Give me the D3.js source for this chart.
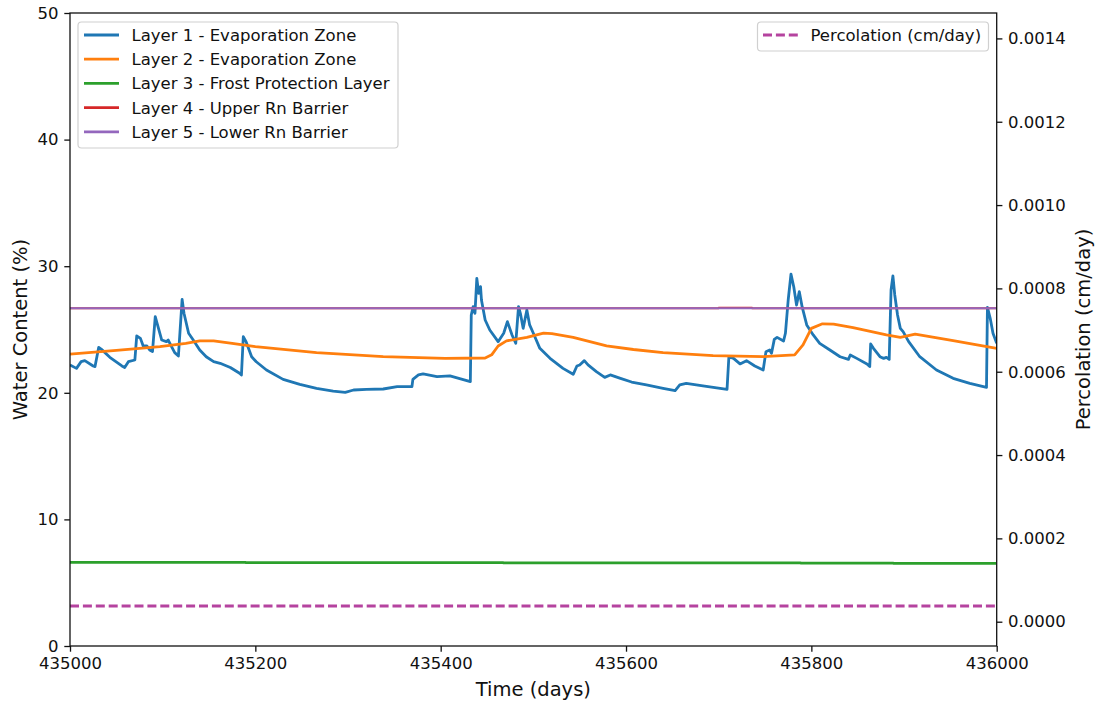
<!DOCTYPE html>
<html>
<head>
<meta charset="utf-8">
<script src="https://cdn.jsdelivr.net/npm/d3@7/dist/d3.min.js"></script>
<style>
  html, body { margin: 0; padding: 0; background: #ffffff; }
  svg { display: block; }
  text { font-family: "DejaVu Sans", sans-serif; fill: #111; }
</style>
</head>
<body>
<svg id="chart" width="1097" height="705"></svg>
<script>
// ---- Data -------------------------------------------------------------
const layer1Days = [435000,435007,435012,435016,435025,435027,435031,435034,435043,435056,435059,435063,435070,435072,435076,435079,435083,435086,435089,435092,435094,435099,435104,435106,435110,435113,435117,435121,435123,435128,435133,435140,435147,435155,435162,435173,435183,435185,435187,435190,435196,435201,435212,435230,435248,435266,435284,435297,435306,435320,435338,435353,435369,435370,435376,435381,435396,435410,435432,435433,435435,435437,435439,435441,435443,435444,435448,435453,435462,435468,435472,435477,435481,435484,435486,435489,435493,435496,435500,435507,435518,435532,435543,435547,435550,435555,435559,435568,435577,435583,435594,435606,435622,435640,435653,435658,435665,435683,435709,435711,435716,435723,435730,435739,435748,435751,435755,435757,435760,435763,435770,435772,435775,435778,435781,435784,435787,435790,435795,435802,435809,435820,435831,435840,435842,435849,435860,435863,435864,435867,435874,435878,435881,435884,435886,435888,435890,435893,435896,435899,435905,435917,435935,435953,435971,435989,435990,435993,435996,436000];
const layer1Water = [22.2,21.93,22.46,22.54,22.12,22.07,23.59,23.43,22.8,22.12,22.0,22.46,22.59,24.49,24.3,23.7,23.7,23.38,23.25,26.01,25.49,24.17,24.04,24.17,23.59,23.17,22.91,27.38,26.28,24.7,24.17,23.38,22.85,22.46,22.33,22.0,21.54,21.41,24.43,24.04,22.85,22.45,21.8,21.06,20.67,20.35,20.14,20.04,20.22,20.27,20.3,20.49,20.49,21.06,21.41,21.49,21.28,21.33,20.88,26.15,26.8,26.28,29.04,27.86,28.38,27.33,25.75,24.96,24.04,24.7,25.62,24.57,23.91,26.8,26.28,25.09,26.54,25.36,24.7,23.51,22.72,21.93,21.46,22.12,22.2,22.54,22.2,21.67,21.22,21.41,21.14,20.85,20.62,20.35,20.17,20.62,20.75,20.54,20.27,22.85,22.72,22.28,22.54,22.12,21.8,23.25,23.38,23.12,24.22,24.38,24.09,24.7,27.33,29.38,28.38,26.93,27.99,26.8,25.36,24.57,23.91,23.38,22.85,22.64,22.99,22.72,22.28,22.07,23.86,23.51,22.85,22.72,22.8,22.64,28.12,29.23,27.73,26.15,25.09,24.83,24.04,22.85,21.8,21.14,20.75,20.43,26.75,25.88,24.7,23.91];

const layer2Days = [435000,435050,435097,435125,435140,435155,435175,435200,435266,435338,435405,435448,435455,435462,435471,435493,435511,435520,435543,435579,435608,435640,435694,435748,435782,435791,435800,435812,435824,435845,435881,435896,435912,435953,436000];
const layer2Water = [23.06,23.35,23.64,23.9,24.1,24.1,23.9,23.65,23.17,22.85,22.72,22.75,23.0,23.7,24.1,24.38,24.72,24.68,24.38,23.7,23.42,23.17,22.93,22.85,22.99,23.78,25.09,25.45,25.43,25.14,24.57,24.38,24.64,24.12,23.51];

const layer3Days = [435000,435189,435190,435467,435468,435788,435789,435888,435889,436000];
const layer3Water = [6.61,6.61,6.59,6.59,6.57,6.57,6.55,6.55,6.53,6.53];

const layer4Days = [435000,435700,435700,435736,435736,436000];
const layer4Water = [26.67,26.67,26.71,26.71,26.67,26.67];

const layer5Days = [435000,436000];
const layer5Water = [26.67,26.67];

const percolationDays = [435000,436000];
const percolationRate = [0.0000377,0.0000377];

const seriesNames = [
  "Layer 1 - Evaporation Zone",
  "Layer 2 - Evaporation Zone",
  "Layer 3 - Frost Protection Layer",
  "Layer 4 - Upper Rn Barrier",
  "Layer 5 - Lower Rn Barrier"
];
const seriesColors = ["#1f77b4", "#ff7f0e", "#2ca02c", "#d62728", "#9467bd"];
const percolationName = "Percolation (cm/day)";
const percolationColor = "#b5439f";

const xTicks = [435000, 435200, 435400, 435600, 435800, 436000];
const leftTicks = [0, 10, 20, 30, 40, 50];
const rightTicks = [0.0000, 0.0002, 0.0004, 0.0006, 0.0008, 0.0010, 0.0012, 0.0014];

// ---- Layout -----------------------------------------------------------
const plot = { left: 70, right: 996.7, top: 13, bottom: 646 };
const tickFont = 16.5;
const labelFont = 19.5;
const tickLen = 5.7;

const svg = d3.select("#chart");

const x = d3.scaleLinear().domain([435000, 436000]).range([plot.left, plot.right]);
const yLeft = d3.scaleLinear().domain([0, 50]).range([plot.bottom, plot.top]);
const yRight = d3.scaleLinear().domain([-0.0000583, 0.001461]).range([plot.bottom, plot.top]);

svg.append("defs").append("clipPath").attr("id", "plotClip")
  .append("rect")
  .attr("x", plot.left).attr("y", plot.top)
  .attr("width", plot.right - plot.left).attr("height", plot.bottom - plot.top);

const lines = svg.append("g").attr("clip-path", "url(#plotClip)");

const layers = [
  { days: layer1Days, values: layer1Water, width: 2.8 },
  { days: layer2Days, values: layer2Water, width: 2.8 },
  { days: layer3Days, values: layer3Water, width: 2.8 },
  { days: layer4Days, values: layer4Water, width: 2.0 },
  { days: layer5Days, values: layer5Water, width: 2.0 }
];

const waterLine = d3.line().x(d => x(d[0])).y(d => yLeft(d[1]));
layers.forEach((layer, i) => {
  const pts = layer.days.map((d, k) => [d, layer.values[k]]);
  lines.append("path")
    .attr("d", waterLine(pts))
    .attr("fill", "none")
    .attr("stroke", seriesColors[i])
    .attr("stroke-width", layer.width)
    .attr("stroke-linejoin", "round")
    .attr("stroke-linecap", "butt");
});

const percLine = d3.line().x(d => x(d[0])).y(d => yRight(d[1]));
lines.append("path")
  .attr("d", percLine(percolationDays.map((d, k) => [d, percolationRate[k]])))
  .attr("fill", "none")
  .attr("stroke", percolationColor)
  .attr("stroke-width", 2.8)
  .attr("stroke-dasharray", "9,3.9");

// ---- Axes -------------------------------------------------------------
function styleAxis(g) {
  g.select(".domain").remove();
  g.selectAll(".tick line").attr("stroke", "#111").attr("stroke-width", 1.3);
  g.selectAll(".tick text").attr("font-size", tickFont).attr("fill", "#111")
    .style("font-family", "'DejaVu Sans', sans-serif");
}

svg.append("g")
  .attr("transform", `translate(0,${plot.bottom})`)
  .call(d3.axisBottom(x).tickValues(xTicks).tickFormat(d3.format("d"))
    .tickSize(tickLen).tickPadding(5.7))
  .call(styleAxis);

svg.append("g")
  .attr("transform", `translate(${plot.left},0)`)
  .call(d3.axisLeft(yLeft).tickValues(leftTicks).tickFormat(d3.format("d"))
    .tickSize(tickLen).tickPadding(5.7))
  .call(styleAxis);

svg.append("g")
  .attr("transform", `translate(${plot.right},0)`)
  .call(d3.axisRight(yRight).tickValues(rightTicks).tickFormat(d3.format(".4f"))
    .tickSize(tickLen).tickPadding(5.7))
  .call(styleAxis);

// Frame
svg.append("rect")
  .attr("x", plot.left).attr("y", plot.top)
  .attr("width", plot.right - plot.left).attr("height", plot.bottom - plot.top)
  .attr("fill", "none").attr("stroke", "#111").attr("stroke-width", 1.3);

// Axis titles
svg.append("text")
  .attr("x", (plot.left + plot.right) / 2).attr("y", 696)
  .attr("text-anchor", "middle").attr("font-size", labelFont)
  .text("Time (days)");

svg.append("text")
  .attr("transform", `translate(27,${(plot.top + plot.bottom) / 2}) rotate(-90)`)
  .attr("text-anchor", "middle").attr("font-size", labelFont)
  .text("Water Content (%)");

svg.append("text")
  .attr("transform", `translate(1090,${(plot.top + plot.bottom) / 2}) rotate(-90)`)
  .attr("text-anchor", "middle").attr("font-size", labelFont)
  .text("Percolation (cm/day)");

// ---- Legends ----------------------------------------------------------
const leftLegend = svg.append("g");
leftLegend.append("rect")
  .attr("x", 78).attr("y", 22).attr("width", 320).attr("height", 126)
  .attr("rx", 3.5).attr("fill", "#ffffff").attr("fill-opacity", 0.8)
  .attr("stroke", "#d0d0d0").attr("stroke-width", 1.2);
seriesNames.forEach((name, i) => {
  const cy = 35 + i * 24.2;
  leftLegend.append("line")
    .attr("x1", 84).attr("x2", 119).attr("y1", cy).attr("y2", cy)
    .attr("stroke", seriesColors[i]).attr("stroke-width", 2.8);
  leftLegend.append("text")
    .attr("x", 131.5).attr("y", cy + 6)
    .attr("font-size", tickFont).text(name);
});

const rightLegend = svg.append("g");
rightLegend.append("rect")
  .attr("x", 757.5).attr("y", 22).attr("width", 231).attr("height", 29)
  .attr("rx", 3.5).attr("fill", "#ffffff").attr("fill-opacity", 0.8)
  .attr("stroke", "#d0d0d0").attr("stroke-width", 1.2);
rightLegend.append("line")
  .attr("x1", 763).attr("x2", 799).attr("y1", 35).attr("y2", 35)
  .attr("stroke", percolationColor).attr("stroke-width", 2.8)
  .attr("stroke-dasharray", "9,3.9");
rightLegend.append("text")
  .attr("x", 810.5).attr("y", 35 + 6)
  .attr("font-size", tickFont).text(percolationName);
</script>
</body>
</html>
